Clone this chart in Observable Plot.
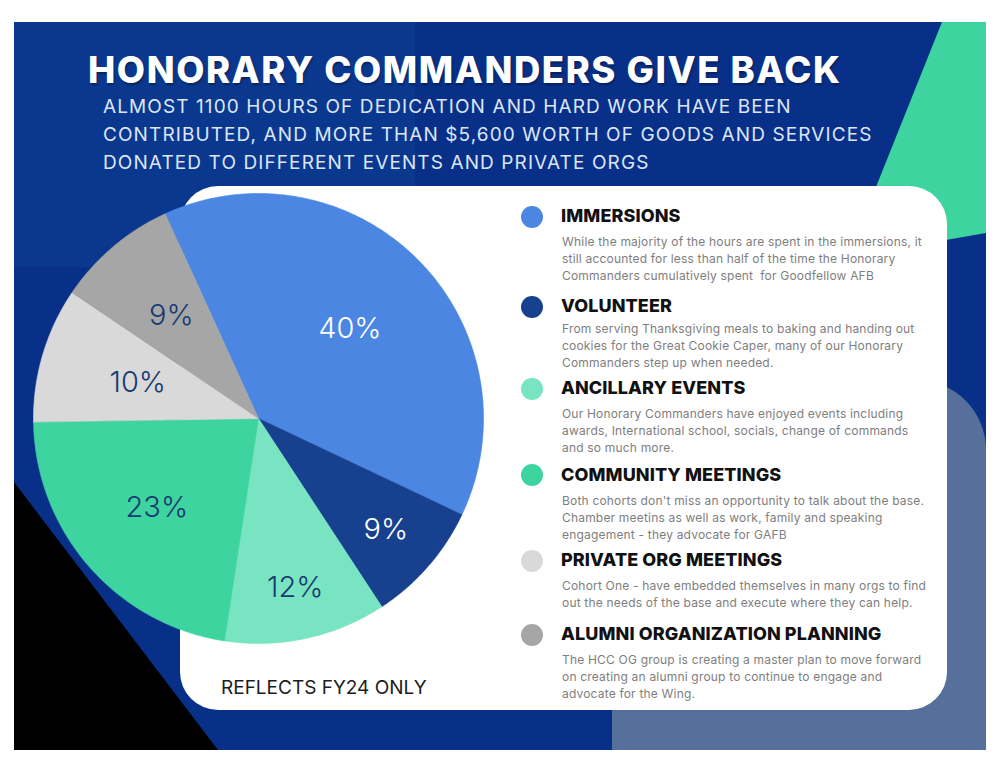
<!DOCTYPE html>
<html><head><meta charset="utf-8">
<script src="https://cdn.jsdelivr.net/npm/d3@7"></script>
<script src="https://cdn.jsdelivr.net/npm/@observablehq/plot@0.6"></script>
<style>
body{margin:0;background:#fff;}
#page{position:relative;width:1000px;height:773px;overflow:hidden;background:#fff;font-family:Inter,"Open Sans",sans-serif;}
.abs{position:absolute;}
#title{left:88px;top:48px;color:#fff;font-size:36.5px;font-weight:800;letter-spacing:1.55px;white-space:nowrap;line-height:44px;text-shadow:1px 2px 2px rgba(0,0,0,0.35);}
#subtitle{left:103px;top:93px;color:#dce6f7;font-size:19px;font-weight:400;letter-spacing:1.1px;line-height:28px;white-space:pre;}
#note{left:221px;top:676px;color:#1c1c1c;font-size:19px;font-weight:400;line-height:24px;white-space:nowrap;}
.dot{width:22px;height:22px;border-radius:50%;}
.head{left:561px;font-size:18px;font-weight:800;color:#111;line-height:22px;white-space:nowrap;letter-spacing:0.1px;}
.desc{left:562px;font-size:12px;font-weight:400;color:#7e7e7e;line-height:17px;white-space:pre;letter-spacing:0.19px;}
</style></head><body><div id="page">
<div class="abs" style="left:14px;top:22px;width:972px;height:728px;background:#083089;"></div>
<div class="abs" style="left:14px;top:22px;width:401px;height:245px;background:#0b388f;"></div>
<div class="abs" style="left:840px;top:22px;width:146px;height:240px;background:#3dd49f;clip-path:polygon(102px 0,146px 0,146px 211px,8px 235px);"></div>
<div class="abs" style="left:14px;top:480px;width:210px;height:270px;background:#000;clip-path:polygon(0 2px,204px 270px,0 270px);"></div>
<div class="abs" style="left:612px;top:380px;width:374px;height:370px;background:#56709b;border-top-right-radius:70px;"></div>
<div class="abs" style="left:180px;top:186px;width:767px;height:524px;background:#fff;border-radius:38px;"></div>
<div id="title" class="abs"></div>
<div id="subtitle" class="abs"></div>
<div id="note" class="abs"></div>
<div id="legend"></div>
<div id="pie" class="abs" style="left:33px;top:193px;"></div>
</div>
<script>
// ---- data ----
const title = "HONORARY COMMANDERS GIVE BACK";
const subtitleLines = [
  "ALMOST 1100 HOURS OF DEDICATION AND HARD WORK HAVE BEEN",
  "CONTRIBUTED, AND MORE THAN $5,600 WORTH OF GOODS AND SERVICES",
  "DONATED TO DIFFERENT EVENTS AND PRIVATE ORGS"
];
const note = "REFLECTS FY24 ONLY";
const categories = ["IMMERSIONS","VOLUNTEER","ANCILLARY EVENTS","COMMUNITY MEETINGS","PRIVATE ORG MEETINGS","ALUMNI ORGANIZATION PLANNING"];
const percents = [40, 9, 12, 23, 10, 9];
const descriptions = [
  "While the majority of the hours are spent in the immersions, it\nstill accounted for less than half of the time the Honorary\nCommanders cumulatively spent  for Goodfellow AFB",
  "From serving Thanksgiving meals to baking and handing out\ncookies for the Great Cookie Caper, many of our Honorary\nCommanders step up when needed.",
  "Our Honorary Commanders have enjoyed events including\nawards, International school, socials, change of commands\nand so much more.",
  "Both cohorts don't miss an opportunity to talk about the base.\nChamber meetins as well as work, family and speaking\nengagement - they advocate for GAFB",
  "Cohort One - have embedded themselves in many orgs to find\nout the needs of the base and execute where they can help.",
  "The HCC OG group is creating a master plan to move forward\non creating an alumni group to continue to engage and\nadvocate for the Wing."
];

// ---- styles / layout ----
const colors = ["#4a86e2","#17408f","#78e4c1","#3dd49f","#d9d9d9","#a6a6a6"];
const labelIsLight = [true, true, false, false, false, false];
const labelRadius = [0.57, 0.75, 0.77, 0.6, 0.56, 0.6];
const headY = [216, 306, 388, 474.5, 560, 634];
const descY = [241, 328, 413, 500, 585, 659];
const startDeg = -24.5;

document.getElementById("title").textContent = title;
document.getElementById("subtitle").textContent = subtitleLines.join("\n");
document.getElementById("note").textContent = note;

const legend = document.getElementById("legend");
categories.forEach((c, i) => {
  const dot = document.createElement("div");
  dot.className = "abs dot";
  dot.style.left = (532 - 11) + "px";
  dot.style.top = (headY[i] + 0.5 - 11) + "px";
  dot.style.background = colors[i];
  legend.appendChild(dot);
  const h = document.createElement("div");
  h.className = "abs head";
  h.style.top = (headY[i] - 11) + "px";
  h.textContent = c;
  legend.appendChild(h);
  const d = document.createElement("div");
  d.className = "abs desc";
  d.style.top = (descY[i] - 8.5) + "px";
  d.textContent = descriptions[i];
  legend.appendChild(d);
});

const rows = categories.map((c, i) => ({category: c, pct: percents[i], light: labelIsLight[i], lr: labelRadius[i]}));
const start = startDeg * Math.PI / 180;
const arcs = d3.pie().sort(null).value(d => d.pct).startAngle(start).endAngle(start + 2 * Math.PI)(rows);
const pts = [];
const labels = [];
arcs.forEach(a => {
  const cat = a.data.category;
  pts.push({cat, x: 0, y: 0});
  const n = Math.max(2, Math.ceil((a.endAngle - a.startAngle) / 0.01));
  for (let k = 0; k <= n; k++) {
    const t = a.startAngle + (a.endAngle - a.startAngle) * k / n;
    pts.push({cat, x: Math.sin(t), y: Math.cos(t)});
  }
  pts.push({cat, x: 0, y: 0});
  const m = (a.startAngle + a.endAngle) / 2;
  labels.push({x: a.data.lr * Math.sin(m), y: a.data.lr * Math.cos(m), text: a.data.pct + "%", light: a.data.light});
});

const chart = Plot.plot({
  width: 450, height: 450, margin: 0,
  x: {domain: [-1, 1], axis: null},
  y: {domain: [-1, 1], axis: null},
  color: {domain: categories, range: colors},
  style: {background: "transparent", overflow: "visible"},
  marks: [
    Plot.line(pts, {x: "x", y: "y", z: "cat", fill: "cat", stroke: "cat", strokeWidth: 0.6, curve: "linear"}),
    Plot.text(labels.filter(d => d.light), {x: "x", y: "y", text: "text", fill: "#ffffff", fontSize: 29, fontWeight: 300, fontFamily: "Inter"}),
    Plot.text(labels.filter(d => !d.light), {x: "x", y: "y", text: "text", fill: "#183a72", fontSize: 29, fontWeight: 300, fontFamily: "Inter"})
  ]
});
document.getElementById("pie").appendChild(chart);
</script>
</body></html>
